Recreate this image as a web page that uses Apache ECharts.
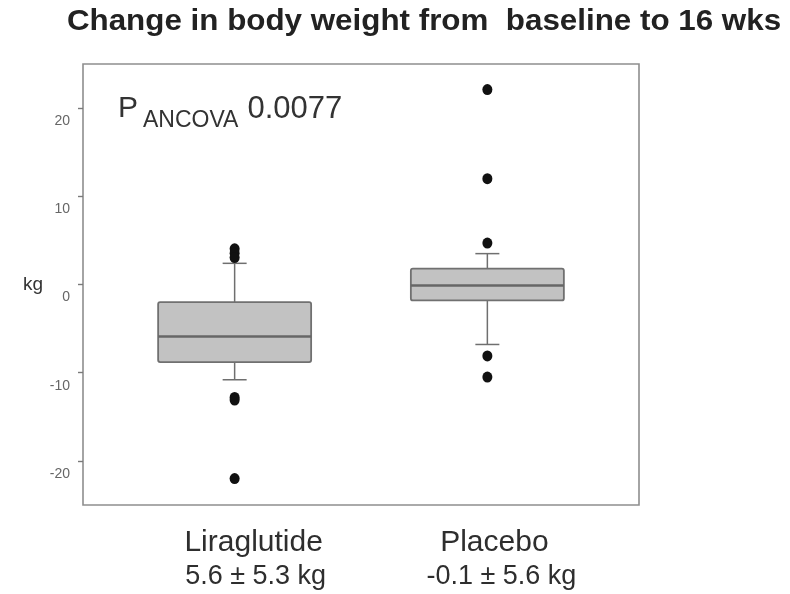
<!DOCTYPE html>
<html>
<head>
<meta charset="utf-8">
<title>Change in body weight from baseline to 16 wks</title>
<script src="https://cdn.jsdelivr.net/npm/echarts@6/dist/echarts.min.js"></script>
<style>
  html, body { margin: 0; padding: 0; background: #fff; }
  #chart { width: 790px; height: 594px; }
</style>
</head>
<body>
<div id="chart"></div>
<script>
// Groups and their summary lines (mean ± SD)
const groups = ['Liraglutide', 'Placebo'];
const groupSummaries = ['5.6 ± 5.3 kg', '-0.1 ± 5.6 kg'];

// Box statistics per group, kg
const whiskerLow = [-10.8, -6.8];
const quartile1 = [-8.8, -1.8];
const medians = [-5.9, -0.1];
const quartile3 = [-2.0, 1.8];
const whiskerHigh = [2.4, 3.5];

// Outlying observations per group, kg
const outliersLiraglutide = [4.05, 3.55, 3.05, -12.8, -13.1, -22.0];
const outliersPlacebo = [22.1, 12.0, 4.7, -8.1, -10.5];

// Y axis ticks
const yTicks = [-20, -10, 0, 10, 20];

const FONT = "'Liberation Sans', Arial, Helvetica, sans-serif";

// Box rows: [position, low, q1, median, q3, high]
const boxData = groups.map((g, i) => [i + 1, whiskerLow[i], quartile1[i], medians[i], quartile3[i], whiskerHigh[i]]);
const outlierData = []
  .concat(outliersLiraglutide.map(v => [1, v]))
  .concat(outliersPlacebo.map(v => [2, v]));

const BOX_W = 153;
const CAP_W = 24;

function renderBox(params, api) {
  const x = api.value(0);
  const pLo = api.coord([x, api.value(1)]);
  const pQ1 = api.coord([x, api.value(2)]);
  const pMed = api.coord([x, api.value(3)]);
  const pQ3 = api.coord([x, api.value(4)]);
  const pHi = api.coord([x, api.value(5)]);
  const cx = pMed[0];
  const lineStyle = { stroke: '#6f6f6f', lineWidth: 1.5 };
  return {
    type: 'group',
    children: [
      { type: 'line', shape: { x1: cx, y1: pQ3[1], x2: cx, y2: pHi[1] }, style: lineStyle },
      { type: 'line', shape: { x1: cx - CAP_W / 2, y1: pHi[1], x2: cx + CAP_W / 2, y2: pHi[1] }, style: lineStyle },
      { type: 'line', shape: { x1: cx, y1: pQ1[1], x2: cx, y2: pLo[1] }, style: lineStyle },
      { type: 'line', shape: { x1: cx - CAP_W / 2, y1: pLo[1], x2: cx + CAP_W / 2, y2: pLo[1] }, style: lineStyle },
      {
        type: 'rect',
        shape: { x: cx - BOX_W / 2, y: pQ3[1], width: BOX_W, height: pQ1[1] - pQ3[1], r: 2 },
        style: { fill: '#c2c2c2', stroke: '#707070', lineWidth: 1.8 }
      },
      {
        type: 'line',
        shape: { x1: cx - BOX_W / 2, y1: pMed[1], x2: cx + BOX_W / 2, y2: pMed[1] },
        style: { stroke: '#666', lineWidth: 2.5 }
      }
    ]
  };
}

const chart = echarts.init(document.getElementById('chart'), null, { renderer: 'canvas' });

chart.setOption({
  backgroundColor: '#ffffff',
  animation: false,
  textStyle: { fontFamily: FONT },
  grid: {
    left: 83, right: 151, top: 64, bottom: 89,
    show: true, borderColor: '#8e8e8e', borderWidth: 1.6, backgroundColor: 'transparent'
  },
  xAxis: {
    type: 'value',
    min: 0.4,
    max: 2.6,
    splitLine: { show: false },
    axisLine: { show: false },
    axisTick: { show: false },
    axisLabel: {
      customValues: [1, 2],
      margin: 21,
      formatter: v => {
        const i = Math.round(v) - 1;
        return '{n' + i + '|' + groups[i] + '}\n{s' + i + '|' + groupSummaries[i] + '}';
      },
      rich: {
        n0: { fontFamily: FONT, fontSize: 30, color: '#2e2e2e', lineHeight: 34, padding: [0, 0, 0, 38] },
        s0: { fontFamily: FONT, fontSize: 27, color: '#2e2e2e', lineHeight: 34, padding: [0, 0, 0, 42] },
        n1: { fontFamily: FONT, fontSize: 30, color: '#2e2e2e', lineHeight: 34, padding: [0, 0, 0, 14] },
        s1: { fontFamily: FONT, fontSize: 27, color: '#2e2e2e', lineHeight: 34, padding: [0, 0, 0, 28] }
      }
    }
  },
  yAxis: {
    type: 'value',
    min: -25,
    max: 25,
    name: 'kg',
    nameLocation: 'middle',
    nameRotate: 0,
    nameGap: 40,
    nameTextStyle: { fontFamily: FONT, fontSize: 19, color: '#333', padding: [16, 0, 0, 0] },
    splitLine: { show: false },
    axisLine: { show: false },
    axisTick: { show: true, customValues: yTicks, length: 5, lineStyle: { color: '#7a7a7a', width: 1.4 } },
    axisLabel: {
      customValues: yTicks,
      margin: 13,
      formatter: v => '{t|' + v + '}',
      rich: {
        t: { fontFamily: FONT, fontSize: 14, color: '#666', padding: [26, 0, 0, 0] }
      }
    }
  },
  graphic: [
    {
      type: 'text',
      x: 424,
      y: 22,
      scaleX: 1.045,
      style: {
        text: 'Change in body weight from  baseline to 16 wks',
        font: 'bold 30px ' + FONT,
        fill: '#222',
        textAlign: 'center',
        textVerticalAlign: 'middle'
      }
    },
    {
      type: 'text',
      x: 118,
      y: 109,
      style: {
        text: '{p|P}{sub|ANCOVA}{v|0.0077}',
        textAlign: 'left',
        textVerticalAlign: 'middle',
        rich: {
          p: { fontFamily: FONT, fontSize: 30, fill: '#333' },
          sub: { fontFamily: FONT, fontSize: 23, fill: '#333', padding: [24, 9, 0, 5] },
          v: { fontFamily: FONT, fontSize: 31, fill: '#333' }
        }
      }
    }
  ],
  series: [
    {
      type: 'custom',
      renderItem: renderBox,
      encode: { x: 0, y: [1, 2, 3, 4, 5] },
      data: boxData,
      z: 2
    },
    {
      type: 'scatter',
      data: outlierData,
      symbol: 'circle',
      symbolSize: [10, 11],
      itemStyle: { color: '#111', opacity: 1 },
      z: 3
    }
  ]
});
</script>
</body>
</html>
